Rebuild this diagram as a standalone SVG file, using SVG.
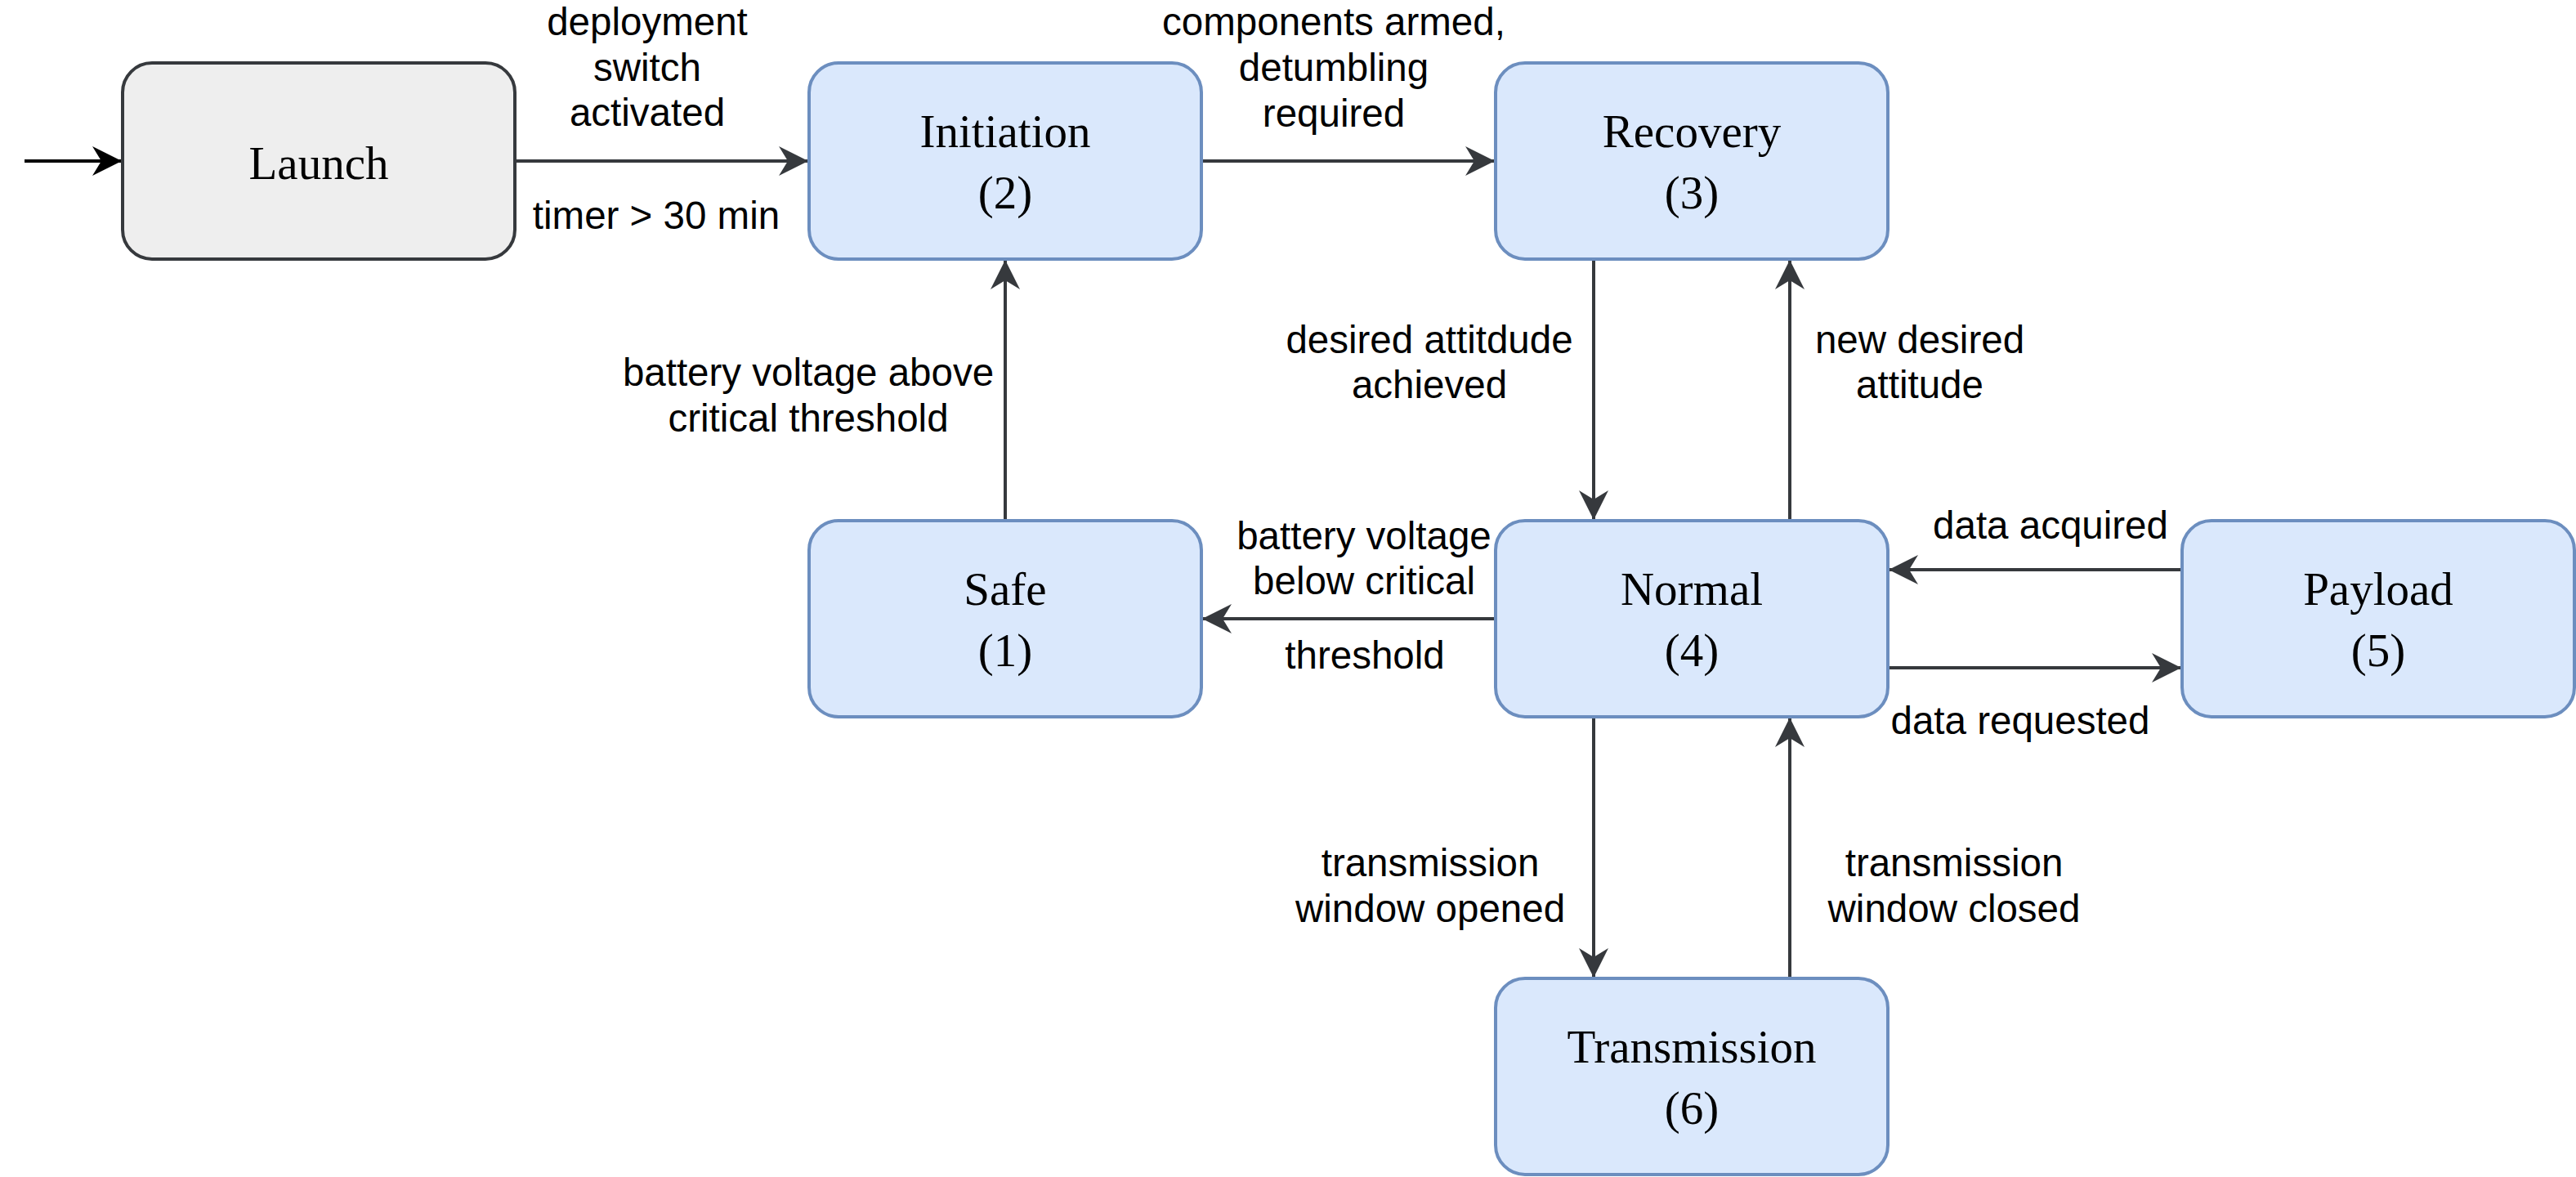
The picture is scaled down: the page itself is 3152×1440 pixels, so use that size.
<svg xmlns="http://www.w3.org/2000/svg" width="3152" height="1440" viewBox="0 0 3152 1440">
<style>
.node rect{stroke-width:4}
.blue rect{fill:#dae8fc;stroke:#6c8ebf}
.grey rect{fill:#eeeeee;stroke:#36393d}
.nl{font-family:"Liberation Serif","Times New Roman",serif;font-size:57px;fill:#000;text-anchor:middle}
.el{font-family:"Liberation Sans",Arial,Helvetica,sans-serif;font-size:47.5px;fill:#000;text-anchor:middle}
.edge{fill:none;stroke:#36393d;stroke-width:4}
</style>
<defs>
<marker id="arr" markerUnits="userSpaceOnUse" markerWidth="36" markerHeight="38" viewBox="0 0 36 38" refX="35" refY="19" orient="auto">
<path d="M36,19 L0,1 L11,19 L0,37 Z" fill="#36393d"/>
</marker>
<marker id="arrk" markerUnits="userSpaceOnUse" markerWidth="36" markerHeight="38" viewBox="0 0 36 38" refX="35" refY="19" orient="auto">
<path d="M36,19 L0,1 L11,19 L0,37 Z" fill="#000"/>
</marker>
</defs>
<rect width="3152" height="1440" fill="#fff"/>
<g id="connectors">
<line class="edge" x1="30" y1="197" x2="148" y2="197" style="stroke:#000" marker-end="url(#arrk)"/>
<line class="edge" x1="630" y1="197" x2="988" y2="197" marker-end="url(#arr)"/>
<line class="edge" x1="1470" y1="197" x2="1828" y2="197" marker-end="url(#arr)"/>
<line class="edge" x1="1230" y1="637" x2="1230" y2="319" marker-end="url(#arr)"/>
<line class="edge" x1="1950" y1="317" x2="1950" y2="635" marker-end="url(#arr)"/>
<line class="edge" x1="2190" y1="637" x2="2190" y2="319" marker-end="url(#arr)"/>
<line class="edge" x1="1830" y1="757" x2="1472" y2="757" marker-end="url(#arr)"/>
<line class="edge" x1="2670" y1="697" x2="2312" y2="697" marker-end="url(#arr)"/>
<line class="edge" x1="2310" y1="817" x2="2668" y2="817" marker-end="url(#arr)"/>
<line class="edge" x1="1950" y1="877" x2="1950" y2="1195" marker-end="url(#arr)"/>
<line class="edge" x1="2190" y1="1197" x2="2190" y2="879" marker-end="url(#arr)"/>
<text class="el" x="792" y="43">deployment</text>
<text class="el" x="792" y="99">switch</text>
<text class="el" x="792" y="154">activated</text>
<text class="el" x="803" y="280">timer &gt; 30 min</text>
<text class="el" x="1632" y="43">components armed,</text>
<text class="el" x="1632" y="99">detumbling</text>
<text class="el" x="1632" y="155">required</text>
<text class="el" x="989" y="472">battery voltage above</text>
<text class="el" x="989" y="528">critical threshold</text>
<text class="el" x="1749" y="432">desired attitdude</text>
<text class="el" x="1749" y="487">achieved</text>
<text class="el" x="2349" y="432">new desired</text>
<text class="el" x="2349" y="487">attitude</text>
<text class="el" x="1669" y="672">battery voltage</text>
<text class="el" x="1669" y="727">below critical</text>
<text class="el" x="1670" y="818">threshold</text>
<text class="el" x="2509" y="659">data acquired</text>
<text class="el" x="2472" y="898">data requested</text>
<text class="el" x="1750" y="1072">transmission</text>
<text class="el" x="1750" y="1128">window opened</text>
<text class="el" x="2391" y="1072">transmission</text>
<text class="el" x="2391" y="1128">window closed</text>
</g>
<g id="launch" class="node grey">
<rect x="150" y="77" width="480" height="240" rx="36" ry="36"/>
<text class="nl" x="390" y="219">Launch</text>
</g>
<g id="initiation" class="node blue">
<rect x="990" y="77" width="480" height="240" rx="36" ry="36"/>
<text class="nl" x="1230" y="180">Initiation</text>
<text class="nl" x="1230" y="255">(2)</text>
</g>
<g id="recovery" class="node blue">
<rect x="1830" y="77" width="480" height="240" rx="36" ry="36"/>
<text class="nl" x="2070" y="180">Recovery</text>
<text class="nl" x="2070" y="255">(3)</text>
</g>
<g id="safe" class="node blue">
<rect x="990" y="637" width="480" height="240" rx="36" ry="36"/>
<text class="nl" x="1230" y="740">Safe</text>
<text class="nl" x="1230" y="815">(1)</text>
</g>
<g id="normal" class="node blue">
<rect x="1830" y="637" width="480" height="240" rx="36" ry="36"/>
<text class="nl" x="2070" y="740">Normal</text>
<text class="nl" x="2070" y="815">(4)</text>
</g>
<g id="payload" class="node blue">
<rect x="2670" y="637" width="480" height="240" rx="36" ry="36"/>
<text class="nl" x="2910" y="740">Payload</text>
<text class="nl" x="2910" y="815">(5)</text>
</g>
<g id="transmission" class="node blue">
<rect x="1830" y="1197" width="480" height="240" rx="36" ry="36"/>
<text class="nl" x="2070" y="1300">Transmission</text>
<text class="nl" x="2070" y="1375">(6)</text>
</g>
</svg>
